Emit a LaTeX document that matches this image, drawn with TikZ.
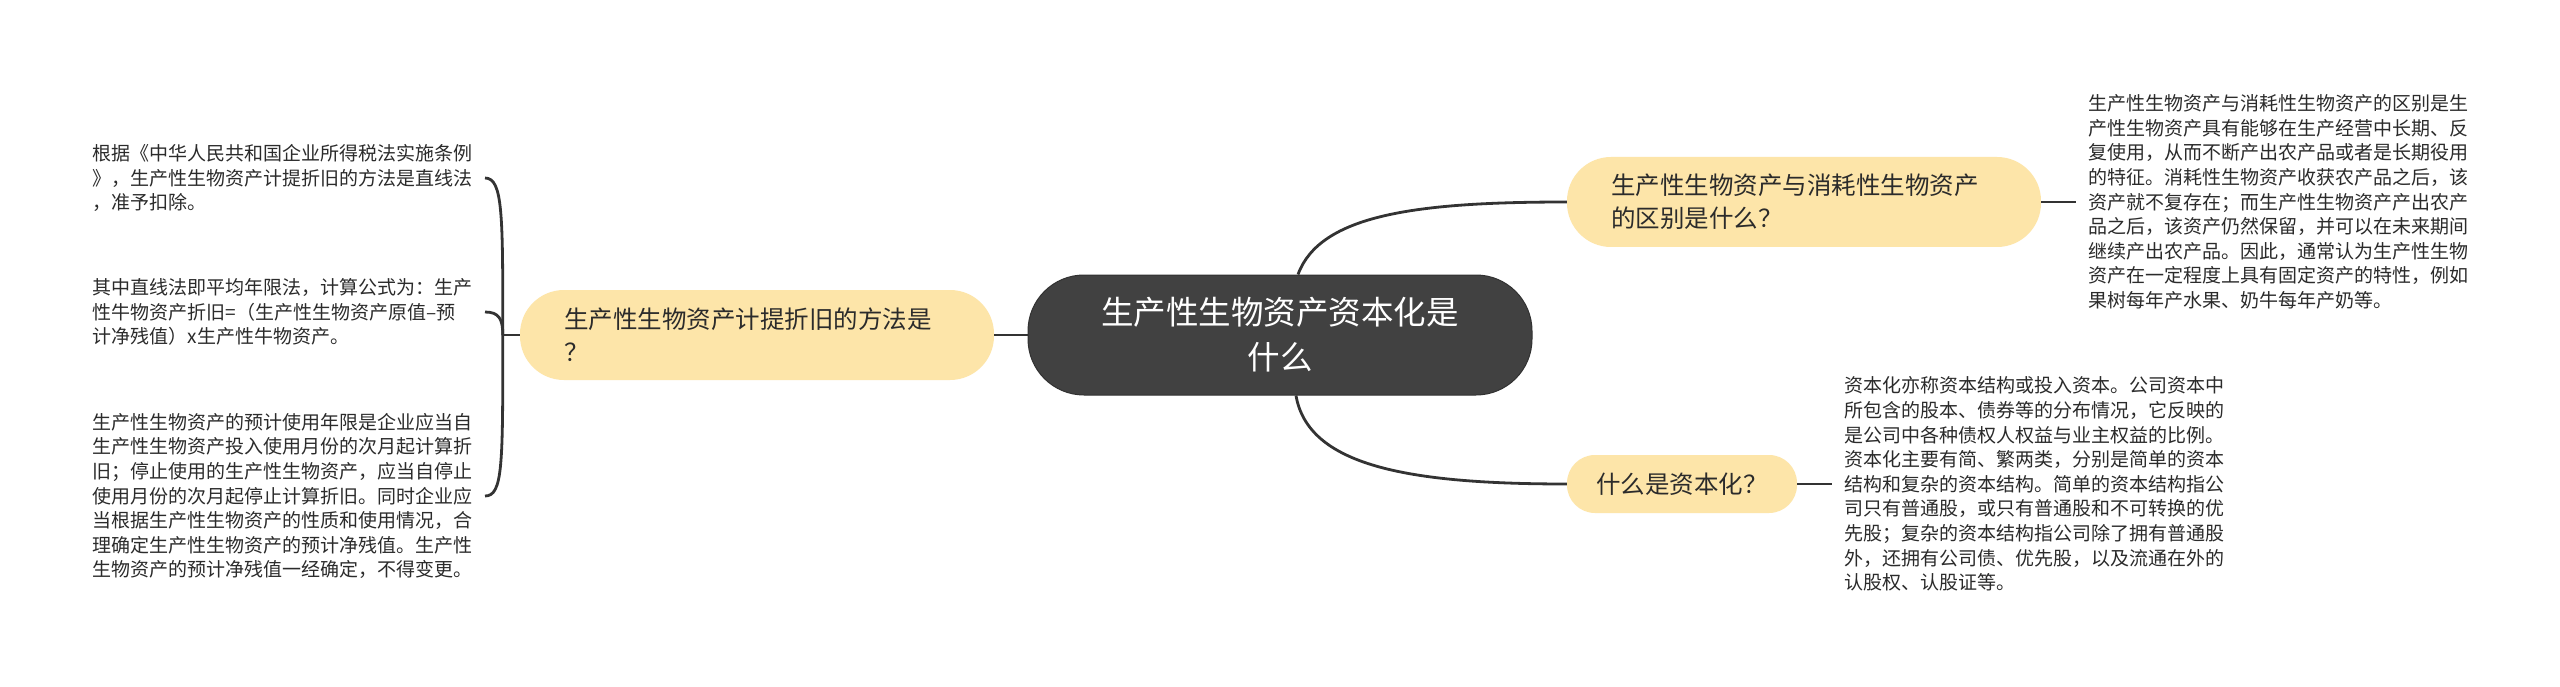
\documentclass[tikz,border=0pt]{standalone}
\usepackage{fontspec}
\setmainfont{Noto Sans CJK SC}
\usepackage{xcolor}
\usepackage{tikz}
\usetikzlibrary{positioning}
\definecolor{topicfill}{HTML}{FDE5A9}
\definecolor{rootfill}{HTML}{414141}
\definecolor{linkcol}{HTML}{333333}
\definecolor{textcol}{HTML}{2B2B2B}

\begin{document}
\begin{tikzpicture}[x=1pt,y=-1pt,
  link/.style={draw=linkcol,line width=2.8pt},
  root/.style={fill=rootfill,draw=rootfill!75!black,line width=1pt,rounded corners=56pt,
    minimum width=504pt,minimum height=120pt,inner sep=0pt,align=center,text=white,
    font=\fontsize{32.5}{45}\selectfont},
  topic/.style={fill=topicfill,rounded corners=44pt,inner sep=0pt,minimum height=90pt,
    text=textcol,font=\fontsize{24.5}{33}\selectfont},
  leaf/.style={inner xsep=12pt,inner ysep=0pt,align=left,text=textcol,
    font=\fontsize{19}{24.6}\selectfont}]
\useasboundingbox (0,0) rectangle (2560,687);
\fill[white] (0,0) rectangle (2560,687);

\node[root] (root) at (1280,335) {生产性生物资产资本化是\\什么};

% left branch
\node[topic,text width=386pt,align=left,inner xsep=44pt] (lq) at (757,335)
  {生产性生物资产计提折旧的方法是\\？};
\coordinate (lspine) at ([xshift=-17pt]lq.west);
\node[leaf,anchor=east] (l1) at (485,178)
  {根据《中华人民共和国企业所得税法实施条例\\》，生产性生物资产计提折旧的方法是直线法\\，准予扣除。};
\node[leaf,anchor=east] (l2) at (485,312)
  {其中直线法即平均年限法，计算公式为：生产\\性牛物资产折旧=（生产性生物资产原值–预\\计净残值）x生产性牛物资产。};
\node[leaf,anchor=east] (l3) at (485,496)
  {生产性生物资产的预计使用年限是企业应当自\\生产性生物资产投入使用月份的次月起计算折\\旧；停止使用的生产性生物资产，应当自停止\\使用月份的次月起停止计算折旧。同时企业应\\当根据生产性生物资产的性质和使用情况，合\\理确定生产性生物资产的预计净残值。生产性\\生物资产的预计净残值一经确定，不得变更。};

\draw[link] (root.west) -- (lq.east);
\draw[link] (lq.west) -- (lspine);
\draw[link] (lspine) .. controls +(0,-120) and +(18,0) .. (l1.east);
\draw[link] (lspine) .. controls +(0,-16) and +(14,0) .. (l2.east);
\draw[link] (lspine) .. controls +(0,130) and +(18,0) .. (l3.east);

% right branches
\node[topic,text width=386pt,align=left,inner xsep=44pt] (tq) at (1804,202)
  {生产性生物资产与消耗性生物资产\\的区别是什么？};
\node[leaf,right=35pt of tq] (t1)
  {生产性生物资产与消耗性生物资产的区别是生\\产性生物资产具有能够在生产经营中长期、反\\复使用，从而不断产出农产品或者是长期役用\\的特征。消耗性生物资产收获农产品之后，该\\资产就不复存在；而生产性生物资产产出农产\\品之后，该资产仍然保留，并可以在未来期间\\继续产出农产品。因此，通常认为生产性生物\\资产在一定程度上具有固定资产的特性，例如\\果树每年产水果、奶牛每年产奶等。};

\node[topic,minimum width=230pt,minimum height=58pt,rounded corners=28pt] (bq) at (1682,484)
  {什么是资本化？};
\node[leaf,right=35pt of bq] (b1)
  {资本化亦称资本结构或投入资本。公司资本中\\所包含的股本、债券等的分布情况，它反映的\\是公司中各种债权人权益与业主权益的比例。\\资本化主要有简、繁两类，分别是简单的资本\\结构和复杂的资本结构。简单的资本结构指公\\司只有普通股，或只有普通股和不可转换的优\\先股；复杂的资本结构指公司除了拥有普通股\\外，还拥有公司债、优先股，以及流通在外的\\认股权、认股证等。};

\draw[link] ([xshift=18pt]root.north) .. controls +(22,-60) and +(-150,0) .. (tq.west);
\draw[link] ([xshift=16pt]root.south) .. controls +(12,70) and +(-160,0) .. (bq.west);
\draw[link] (tq.east) -- (t1.west);
\draw[link] (bq.east) -- (b1.west);
\end{tikzpicture}
\end{document}
